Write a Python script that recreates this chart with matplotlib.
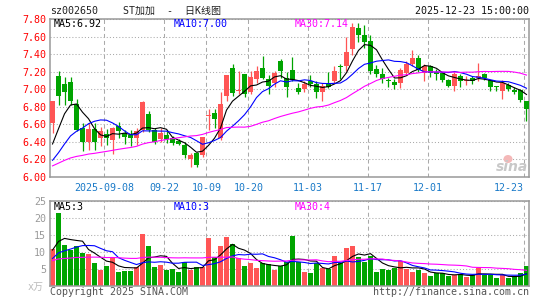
import numpy as np
import pandas as pd
import matplotlib
matplotlib.use('Agg')
import matplotlib.pyplot as plt
from matplotlib.patches import Ellipse

plt.rcParams['font.family'] = ['DejaVu Sans Mono', 'Noto Sans CJK SC']

# daily bars 2025-08-26 .. 2025-12-23
open_ = [6.61, 7.15, 7.06, 7.08, 6.83, 6.56, 6.40, 6.55, 6.44, 6.49,
         6.42, 6.58, 6.50, 6.48, 6.44, 6.54, 6.72, 6.53, 6.43, 6.48,
         6.45, 6.41, 6.37, 6.21, 6.27, 6.25, 6.70, 6.73, 6.44, 6.92,
         7.24, 6.98, 7.17, 6.97, 7.12, 7.24, 7.12, 7.07, 7.32, 7.13,
         7.22, 7.01, 7.00, 7.09, 7.06, 6.97, 7.07, 7.09, 7.26, 7.27,
         7.46, 7.70, 7.62, 7.55, 7.23, 7.17, 7.10, 7.08, 7.07, 7.18,
         7.29, 7.36, 7.19, 7.26, 7.20, 7.18, 7.11, 7.04, 7.15, 7.09,
         7.13, 7.13, 7.17, 7.10, 7.04, 6.98, 7.05, 6.99, 6.99, 6.87]
high = [6.87, 7.21, 7.14, 7.14, 6.89, 6.61, 6.61, 6.61, 6.57, 6.55,
        6.57, 6.63, 6.53, 6.53, 6.56, 6.87, 6.75, 6.56, 6.56, 6.53,
        6.47, 6.43, 6.40, 6.27, 6.29, 6.46, 6.77, 6.77, 6.97, 7.16,
        7.29, 7.21, 7.17, 7.21, 7.27, 7.38, 7.16, 7.21, 7.35, 7.20,
        7.37, 7.07, 7.09, 7.16, 7.09, 7.07, 7.20, 7.27, 7.29, 7.59,
        7.75, 7.75, 7.73, 7.62, 7.28, 7.24, 7.13, 7.12, 7.24, 7.32,
        7.45, 7.39, 7.29, 7.28, 7.23, 7.20, 7.12, 7.20, 7.17, 7.15,
        7.15, 7.30, 7.18, 7.11, 7.04, 7.10, 7.07, 7.02, 7.00, 6.87]
low = [6.50, 6.82, 6.82, 6.82, 6.52, 6.30, 6.31, 6.31, 6.35, 6.36,
       6.26, 6.45, 6.38, 6.35, 6.37, 6.51, 6.51, 6.38, 6.40, 6.39,
       6.36, 6.36, 6.22, 6.11, 6.11, 6.23, 6.54, 6.56, 6.42, 6.87,
       6.92, 6.94, 6.91, 6.95, 7.07, 7.12, 6.94, 7.03, 7.13, 6.91,
       7.09, 6.94, 6.97, 7.03, 6.90, 6.87, 7.01, 7.07, 7.12, 7.21,
       7.39, 7.54, 7.47, 7.17, 7.14, 7.07, 7.03, 7.00, 7.01, 7.16,
       7.26, 7.20, 7.09, 7.14, 7.11, 7.08, 7.03, 6.98, 7.03, 7.05,
       7.06, 7.09, 7.11, 6.98, 6.98, 6.89, 6.98, 6.94, 6.85, 6.64]
close = [6.87, 6.92, 6.97, 6.87, 6.53, 6.40, 6.55, 6.40, 6.52, 6.44,
         6.56, 6.52, 6.46, 6.44, 6.52, 6.85, 6.54, 6.40, 6.50, 6.43,
         6.39, 6.38, 6.25, 6.25, 6.14, 6.45, 6.71, 6.66, 6.83, 7.16,
         6.96, 6.99, 6.94, 7.14, 7.21, 7.13, 7.04, 7.18, 7.21, 7.02,
         7.11, 6.97, 7.06, 7.06, 6.97, 7.04, 7.02, 7.21, 7.25, 7.42,
         7.71, 7.62, 7.54, 7.21, 7.17, 7.12, 7.09, 7.05, 7.22, 7.29,
         7.36, 7.22, 7.26, 7.18, 7.17, 7.11, 7.04, 7.17, 7.09, 7.11,
         7.09, 7.15, 7.13, 7.02, 7.02, 7.07, 7.00, 6.97, 6.88, 6.78]
volume = [10.9, 21.6, 12.1, 10.7, 11.7, 9.8, 9.4, 6.8, 4.7, 5.9,
          8.1, 4.1, 4.4, 4.4, 5.5, 15.2, 11.8, 5.7, 6.2, 4.7,
          5.0, 4.2, 7.0, 4.7, 5.6, 5.6, 14.1, 8.6, 11.8, 14.4,
          12.4, 8.3, 5.9, 6.9, 5.4, 6.7, 6.5, 4.7, 6.0, 7.2,
          14.7, 7.0, 4.1, 3.8, 6.9, 5.4, 5.0, 8.8, 6.7, 11.2,
          11.8, 8.6, 7.2, 8.8, 4.2, 5.0, 4.7, 5.4, 7.4, 5.0,
          4.1, 4.7, 3.8, 2.9, 3.7, 3.7, 2.9, 3.2, 3.5, 2.6,
          3.2, 5.3, 3.2, 3.2, 2.3, 3.2, 2.3, 2.9, 3.7, 5.9]

# 29 sessions before the window, only used to seed the moving averages
prev_close = [5.98, 6.02, 6.05, 6.00, 6.05, 6.10, 6.15, 6.18, 6.12, 6.20,
              6.16, 6.14, 6.15, 6.12, 6.08, 6.05, 6.10, 6.07, 6.08, 6.10,
              6.05, 5.98, 5.95, 6.00, 6.04, 6.05, 6.12, 6.37, 6.47]
prev_volume = [6.5, 8.2, 7.1, 5.9, 9.3, 7.8, 6.4, 5.6, 8.8, 7.5,
               6.2, 7.9, 6.8, 5.7, 7.4, 8.1, 6.6, 6.9, 7.2, 7.1,
               5.0, 6.2, 5.5, 5.8, 5.5, 9.0, 7.6, 12.4, 13.0]

tick_idx = [9, 19, 26, 33, 43, 53, 63, 79]
tick_lab = ['2025-09-08', '09-22', '10-09', '10-20', '11-03', '11-17', '12-01', '12-23']

RED = '#ff5555'
GREEN = '#00a400'
GRID = '#aaaaaa'
W, H = 545, 300


def ma(prev, vals, n):
    s = pd.Series(list(prev) + list(vals)).rolling(n).mean()
    return s.values[len(prev):]


o = np.array(open_)
c = np.array(close)
x = np.arange(len(c))
colors = np.where(c >= o, RED, GREEN)

fig = plt.figure(figsize=(W / 100, H / 100), dpi=100)
ax1 = fig.add_axes([50 / W, 1 - 177 / H, 479 / W, 158 / H])
ax2 = fig.add_axes([50 / W, 1 - 286 / H, 479 / W, 85 / H])

# price panel
ax1.vlines(x, low, high, colors=colors, lw=0.9, zorder=2)
ax1.bar(x, np.maximum(abs(c - o), 0.012), bottom=np.minimum(o, c),
        width=0.84, color=colors, lw=0, zorder=3)
ax1.plot(x, ma(prev_close, c, 5), color='black', lw=0.8, zorder=4)
ax1.plot(x, ma(prev_close, c, 10), color='#0000ff', lw=0.8, zorder=4)
ax1.plot(x, ma(prev_close, c, 30), color='#ff00ff', lw=0.8, zorder=4)
ax1.set_ylim(6.0, 7.8)
yt = np.round(np.arange(6.0, 7.81, 0.2), 2)
ax1.set_yticks(yt)
ax1.set_yticklabels(['%.2f' % v for v in yt], color='#ff0000', fontsize=7.2)

# volume panel
v = np.array(volume)
ax2.bar(x, v, width=0.84, color=colors, lw=0, zorder=2)
ax2.plot(x, ma(prev_volume, v, 5), color='black', lw=0.8, zorder=3)
ax2.plot(x, ma(prev_volume, v, 10), color='#0000ff', lw=0.8, zorder=3)
ax2.plot(x, ma(prev_volume, v, 30), color='#ff00ff', lw=0.8, zorder=3)
ax2.set_ylim(0, 25)
ax2.set_yticks([5, 10, 15, 20, 25])
ax2.set_yticklabels(['5', '10', '15', '20', '25'], color='#999999', fontsize=7.2)

gx = np.array(tick_idx) - 0.37
for ax in (ax1, ax2):
    ax.set_xlim(-0.42, 79.42)
    ax.set_xticks(gx)
    ax.set_axisbelow(True)
    ax.grid(axis='x', color=GRID, ls=(0, (3.8, 2.9)), lw=0.75)
    ax.grid(axis='y', color=GRID, ls=(0, (1, 2)), lw=0.75)
    ax.tick_params(length=0, pad=2.8)
    for s in ax.spines.values():
        s.set_color('#999999')
        s.set_linewidth(1.1)

ax1.set_xticklabels(tick_lab, color='#1a7ac8', fontsize=7.2)
ax1.tick_params(axis='x', pad=4.5)
ax1.get_xticklabels()[-1].set_ha('right')
ax2.set_xticklabels([])


# header / labels
def ftext(px, py, s, size=7.2, **kw):
    fig.text(px / W, 1 - py / H, s, va='center', fontsize=size, **kw)


ftext(50, 11, 'sz002650', color='#222222')
ftext(172, 11, 'ST加加  -  日K线图', color='#222222', ha='center')
ftext(529, 11, '2025-12-23 15:00:00', color='#111111', ha='right')
ftext(54, 24, 'MA5:6.92', color='black')
ftext(174, 24, 'MA10:7.00', color='#0000ff')
ftext(295, 24, 'MA30:7.14', color='#ff00ff')
ftext(54, 206.5, 'MA5:3', color='black')
ftext(174, 206.5, 'MA10:3', color='#0000ff')
ftext(295, 206.5, 'MA30:4', color='#ff00ff')
ftext(44, 287, 'x万', color='#bbbbbb', ha='right')
ftext(50, 292, 'Copyright 2025 SINA.COM', color='#555555')
ftext(529, 292, 'http://finance.sina.com.cn', color='#555555', ha='right')

# sina watermark
fig.add_artist(Ellipse((508 / W, 1 - 159 / H), 9 / W, 8 / H, color='#f4b8b8', lw=0))
ftext(512, 167, 'sina', size=10, color='#c8c8c8', ha='center',
      style='italic', weight='bold', family='DejaVu Sans')

fig.savefig('out.png', dpi=100)
